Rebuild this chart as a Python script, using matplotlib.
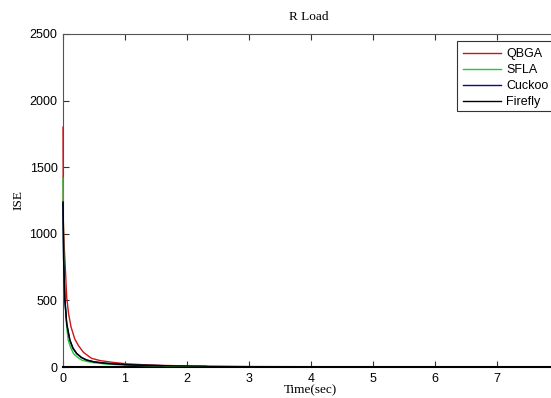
import matplotlib
matplotlib.use("Agg")
import matplotlib.pyplot as plt
from matplotlib.patches import Rectangle

# Data
t_qbga = [0, 0.005, 0.02, 0.04, 0.06, 0.09, 0.13, 0.19, 0.25, 0.33, 0.46, 0.6, 0.8, 1.0, 1.3, 1.6, 2.0, 2.3]
v_qbga = [1800, 1100, 900, 720, 520, 400, 300, 210, 160, 110, 65, 48, 35, 25, 17, 12, 8, 6]

t_sfla = [0, 0.005, 0.01, 0.03, 0.06, 0.085, 0.12, 0.17, 0.22, 0.3, 0.4, 0.5, 0.7, 1.0, 1.5, 2.0, 2.32]
v_sfla = [1420, 1100, 900, 520, 300, 200, 150, 100, 78, 52, 40, 32, 22, 14, 9, 6, 5]

t_cuckoo = [0, 0.01, 0.03, 0.06, 0.11, 0.16, 0.22, 0.3, 0.38, 0.5, 0.7, 1.0, 1.3, 1.62]
v_cuckoo = [1230, 800, 500, 320, 200, 140, 100, 70, 52, 38, 27, 18, 13, 10]

t_firefly = [0, 0.01, 0.03, 0.06, 0.11, 0.16, 0.22, 0.3, 0.38, 0.5, 0.7, 1.0, 1.3, 1.7, 2.25, 3, 5, 7, 10]
v_firefly = [1240, 820, 510, 330, 205, 143, 102, 71, 53, 39, 28, 18, 13, 9, 6, 3, 1, 0.5, 0]

series_names = ["QBGA", "SFLA", "Cuckoo", "Firefly"]
series_colors = ['#c8161d', '#22c832', '#0a0a8c', '#000000']
x_ticks = [0, 1, 2, 3, 4, 5, 6, 7, 8, 9, 10]
x_tick_labels = ["0", "1", "2", "3", "4", "5", "6", "7", "", "", ""]
y_ticks = [0, 500, 1000, 1500, 2000, 2500]

plt.rcParams['font.family'] = ['Liberation Sans', 'DejaVu Sans']
serif = ['Liberation Serif', 'DejaVu Serif']

fig = plt.figure(figsize=(5.51, 3.98), dpi=100)
ax = fig.add_axes([63/551, 31/398, 620/551, 333/398])

for t, v, name, c in zip([t_qbga, t_sfla, t_cuckoo, t_firefly],
                         [v_qbga, v_sfla, v_cuckoo, v_firefly],
                         series_names, series_colors):
    ax.plot(t, v, color=c, lw=1.0, label=name, zorder=3, clip_on=False)

ax.set_xlim(0, 10)
ax.set_ylim(0, 2500)
ax.set_xticks(x_ticks)
ax.set_xticklabels(x_tick_labels)
ax.set_yticks(y_ticks)
ax.tick_params(direction='in', top=True, right=True, labelsize=9, length=4, pad=4,
               color='#333333')
for s in ax.spines.values():
    s.set_color('#555555')
    s.set_linewidth(0.8)
ax.spines['bottom'].set_color('#000000')
ax.spines['bottom'].set_linewidth(1.5)

fig.text(309/551, 1 - 17/398, "R Load", family=serif,
         fontsize=9.5, ha='center', va='center')
fig.text(310/551, 1 - 390/398, "Time(sec)", family=serif,
         fontsize=9.5, ha='center', va='center')
fig.text(18/551, 1 - 200/398, "ISE", family=serif,
         fontsize=9.5, ha='center', va='center', rotation=90)

# legend box extends past the right edge of the image, as in the reference
box = Rectangle((457.5/551, 1 - 111/398), 110/551, 70/398, transform=fig.transFigure,
                facecolor='white', edgecolor='#333333', linewidth=0.8, zorder=4)
fig.add_artist(box)
leg = ax.legend(loc='upper left', bbox_to_anchor=(458/551, 1 - 43/398),
                bbox_transform=fig.transFigure, fontsize=9, frameon=False,
                borderpad=0.4, labelspacing=0.33, handlelength=3.0,
                handletextpad=0.45, borderaxespad=0)
leg.set_zorder(5)
fig.add_artist(leg)

fig.savefig("out.png", dpi=100)
